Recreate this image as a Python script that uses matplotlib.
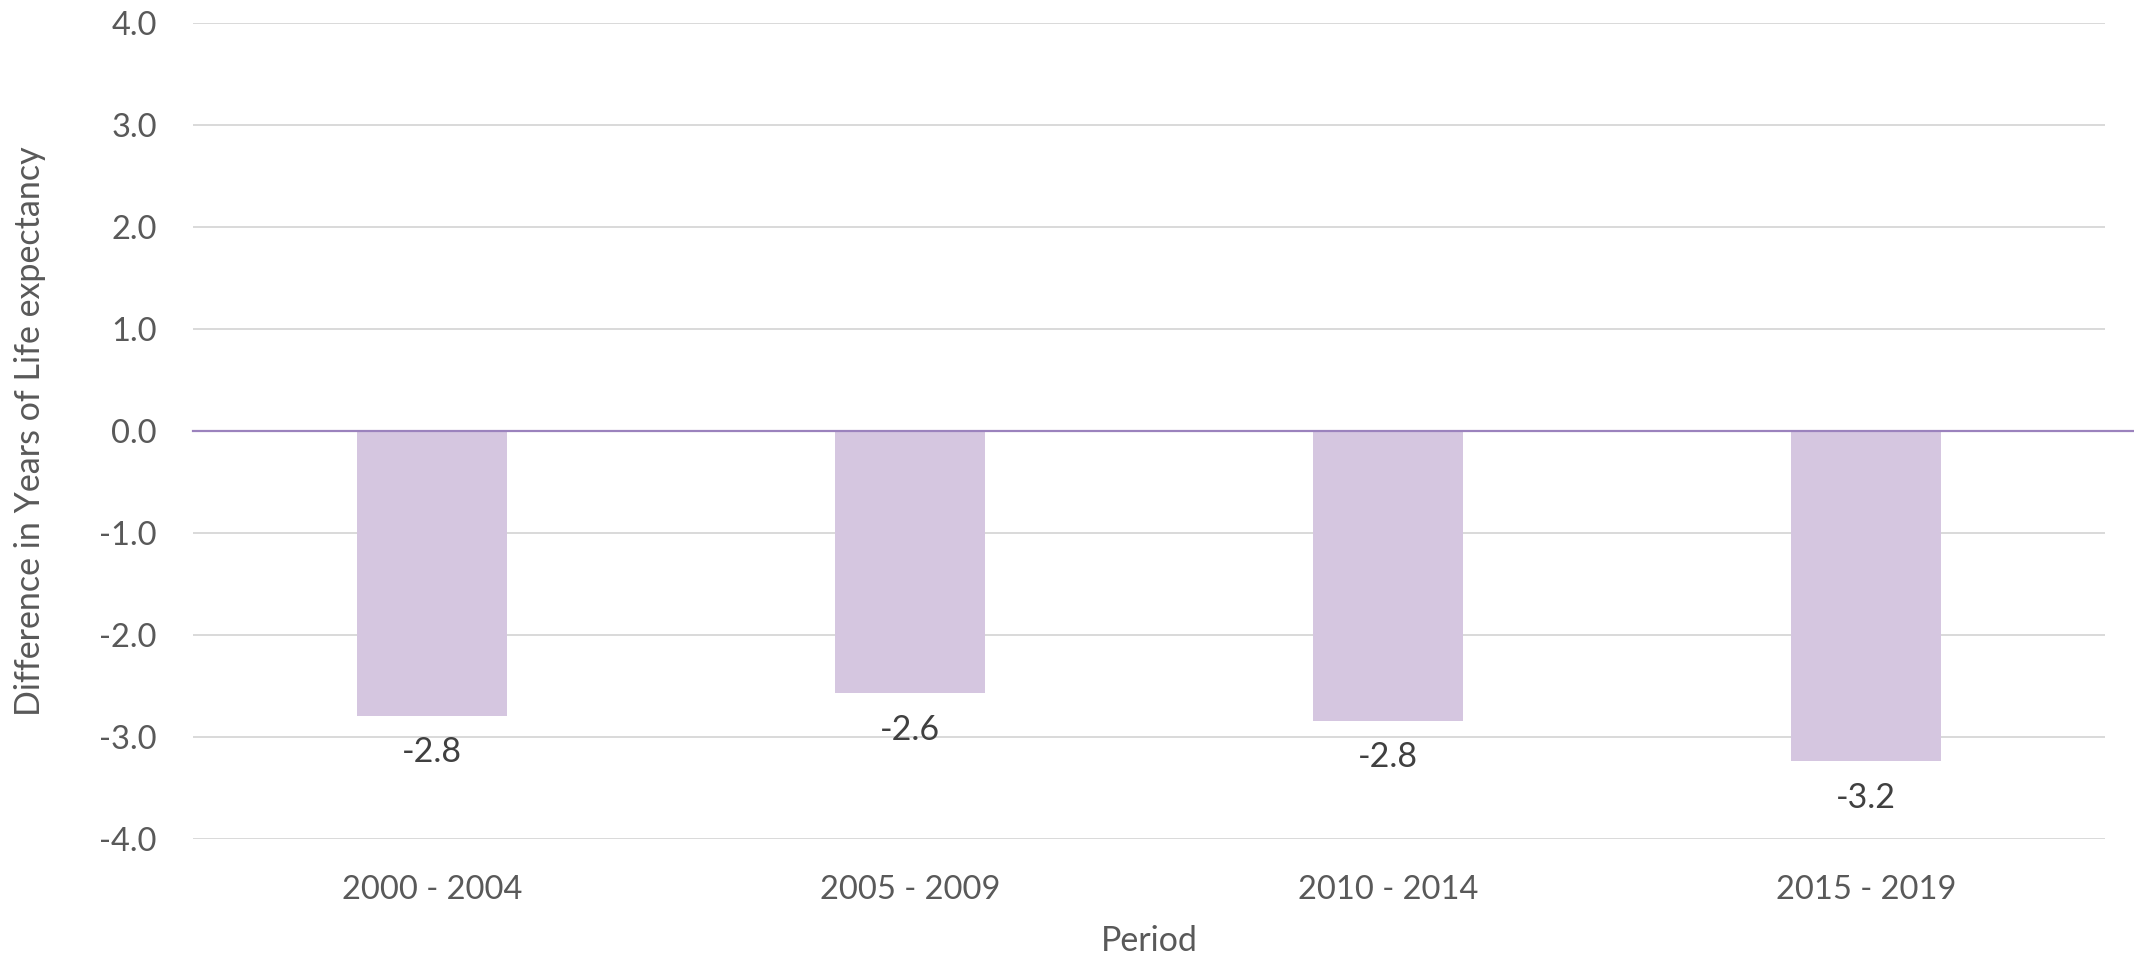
import matplotlib.pyplot as plt

periods = ['2000 - 2004', '2005 - 2009', '2010 - 2014', '2015 - 2019']
diff_years = [-2.79, -2.57, -2.84, -3.24]

plt.rcParams['font.family'] = ['Lato', 'DejaVu Sans']

fig = plt.figure(figsize=(21.34, 9.57), dpi=100)
ax = fig.add_axes([0.0904, 0.1233, 0.896, 0.8527])

x = range(len(periods))
ax.bar(x, diff_years, width=0.314, color='#d5c6e0', zorder=2)

# zero line runs out past the plot area to the right edge
ax.axhline(0, xmin=0, xmax=1.015, color='#9b82bd', lw=1.6, clip_on=False, zorder=3)

for xi, v in zip(x, diff_years):
    ax.text(xi, v - 0.2, f'{v:.1f}', ha='center', va='top', fontsize=24.5, color='#404040')

ax.set_xlim(-0.5, len(periods) - 0.5)
ax.set_ylim(-4, 4)
ax.set_yticks([-4, -3, -2, -1, 0, 1, 2, 3, 4])
ax.set_yticklabels([f'{t:.1f}' for t in ax.get_yticks()])
ax.set_xticks(list(x))
ax.set_xticklabels(periods)

ax.grid(axis='y', color='#d9d9d9', lw=1.4, zorder=0)
ax.set_axisbelow(True)
for s in ax.spines.values():
    s.set_visible(False)
ax.tick_params(axis='both', length=0, labelsize=23.5, labelcolor='#595959')
ax.tick_params(axis='y', pad=26)
ax.tick_params(axis='x', pad=26)

ax.set_xlabel('Period', fontsize=24.5, color='#595959', labelpad=14)
ax.set_ylabel('Difference in Years of Life expectancy', fontsize=24.5, color='#595959')
ax.yaxis.set_label_coords(-0.077, 0.5)

fig.savefig('out.png', dpi=100)
